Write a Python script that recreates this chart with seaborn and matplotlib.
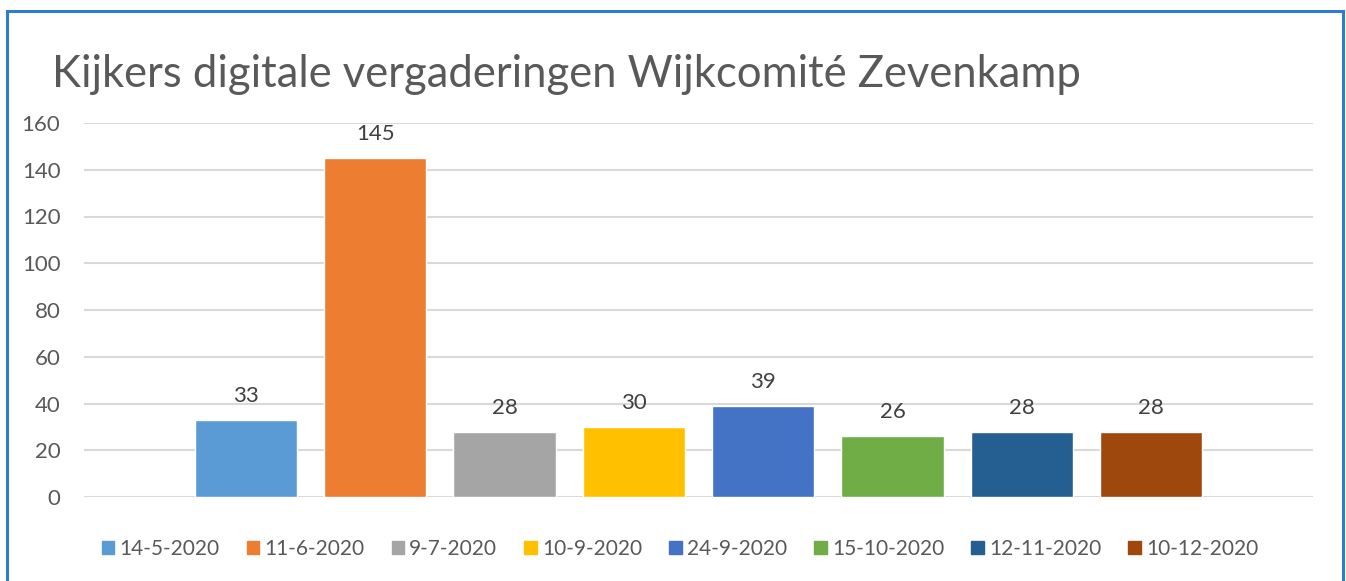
import matplotlib
matplotlib.use("Agg")
import matplotlib.pyplot as plt
import matplotlib.patches as mpatches
import seaborn as sns
import pandas as pd

dates = ["14-5-2020", "11-6-2020", "9-7-2020", "10-9-2020",
         "24-9-2020", "15-10-2020", "12-11-2020", "10-12-2020"]
viewers = [33, 145, 28, 30, 39, 26, 28, 28]
colors = ["#5B9BD5", "#ED7D31", "#A5A5A5", "#FFC000",
          "#4472C4", "#70AD47", "#255E91", "#9E480E"]
title = "Kijkers digitale vergaderingen Wijkcomité Zevenkamp"
yticks = [0, 20, 40, 60, 80, 100, 120, 140, 160]

sns.set_theme(style="white")
plt.rcParams['font.family'] = ['Lato', 'DejaVu Sans']

df = pd.DataFrame({"cat": ["Kijkers"] * len(dates), "datum": dates, "kijkers": viewers})

fig = plt.figure(figsize=(13.46, 5.81), dpi=100)
ax = fig.add_axes([84/1346, 1-497/581, (1313-84)/1346, (497-123)/581])

sns.barplot(data=df, x="cat", y="kijkers", hue="datum", hue_order=dates,
            palette=colors, width=0.842, gap=0.21, saturation=1,
            legend=False, ax=ax, errorbar=None)

ax.set_xlim(-0.5, 0.5)
ax.set_ylim(0, 160)
ax.set_yticks(yticks)
ax.set_xticks([])
ax.set_xlabel("")
ax.set_ylabel("")
for s in ax.spines.values():
    s.set_visible(False)
ax.yaxis.grid(True, color="#D9D9D9", linewidth=1.5)
ax.set_axisbelow(True)
ax.tick_params(axis="y", length=0, pad=17, labelsize=16, labelcolor="#595959")

for cont in ax.containers:
    ax.bar_label(cont, fmt="%d", padding=10, fontsize=16, color="#404040")

handles = [mpatches.Patch(color=c, label=d) for c, d in zip(colors, dates)]
fig.legend(handles=handles, loc="center", bbox_to_anchor=(680/1346, 1-549/581),
           ncol=len(dates), frameon=False, fontsize=15, labelcolor="#595959",
           handlelength=0.6, handleheight=0.6, handletextpad=0.25, columnspacing=1.3)

fig.text(52/1346, 1-87/581, title, fontsize=31.4, color="#595959", va="baseline", ha="left")

border = mpatches.Rectangle((7/1346, -0.05), (1343-7)/1346, 1.05 - 11/581,
                            transform=fig.transFigure, fill=False,
                            edgecolor="#2F7DCB", linewidth=2.2)
fig.patches.append(border)

fig.savefig("out.png", dpi=100)
